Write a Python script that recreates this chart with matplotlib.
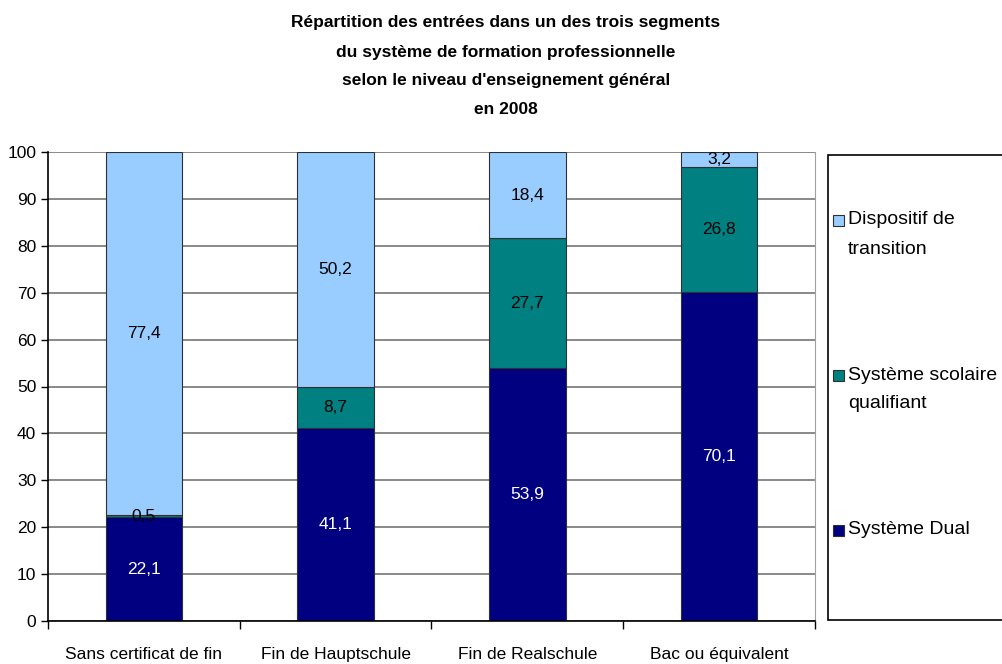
import matplotlib.pyplot as plt
from matplotlib.patches import Rectangle

plt.rcParams['font.family'] = ['Liberation Sans', 'DejaVu Sans']

categories = ["Sans certificat de fin", "Fin de Hauptschule", "Fin de Realschule", "Bac ou équivalent"]
dual = [22.1, 41.1, 53.9, 70.1]
scolaire = [0.5, 8.7, 27.7, 26.8]
transition = [77.4, 50.2, 18.4, 3.2]
series_names = ["Système Dual", "Système scolaire\nqualifiant", "Dispositif de\ntransition"]
colors = ["#000080", "#008080", "#99CCFF"]
title_lines = ["Répartition des entrées dans un des trois segments",
               "du système de formation professionnelle",
               "selon le niveau d'enseignement général",
               "en 2008"]

W, H = 1003, 664
fig = plt.figure(figsize=(W/100, H/100), dpi=100)
ax = fig.add_axes([48/W, 1-621/H, (815-48)/W, (621-152)/H])

x = list(range(len(categories)))
bottoms = [0]*len(x)
bars = []
for vals, col in zip([dual, scolaire, transition], colors):
    b = ax.bar(x, vals, width=0.4, bottom=bottoms, color=col,
               edgecolor="#303030", linewidth=0.8, zorder=2)
    bars.append(b)
    bottoms = [bt + v for bt, v in zip(bottoms, vals)]

for b, vals, tc in zip(bars, [dual, scolaire, transition], ["white", "black", "black"]):
    ax.bar_label(b, labels=[f"{v:.1f}".replace(".", ",") for v in vals],
                 label_type="center", color=tc, fontsize=12.5)

ax.set_xlim(-0.5, 3.5)
ax.set_ylim(0, 100)
ax.set_yticks(range(0, 101, 10))
ax.tick_params(axis="y", labelsize=12.5, length=5, direction="out", width=1)
ax.yaxis.grid(True, color="#808080", linewidth=1.3, zorder=0)
ax.set_axisbelow(True)

ax.set_xticks([-0.5, 0.5, 1.5, 2.5, 3.5])
ax.set_xticklabels([])
ax.tick_params(axis="x", which="major", length=6, direction="out", width=1)
ax.set_xticks(x, minor=True)
ax.set_xticklabels(categories, minor=True, fontsize=12.5)
ax.tick_params(axis="x", which="minor", length=0, pad=19)

ax.spines["top"].set_visible(False)
ax.spines["right"].set_color("#a0a0a0")
ax.spines["left"].set_linewidth(1.2)
ax.spines["bottom"].set_linewidth(1.2)

# title, one line at a time
for i, line in enumerate(title_lines):
    fig.text(506/W, 1-(23 + 29*i)/H, line, ha="center", va="center",
             fontsize=12.5, fontweight="bold")

# legend box
fig.patches.append(Rectangle((828/W, 1-620/H), 200/W, 465/H,
                             transform=fig.transFigure, facecolor="white",
                             edgecolor="black", linewidth=1.2))
legend_y = [530, 375, 220]
for name, col, y0 in zip(series_names, colors, legend_y):
    fig.patches.append(Rectangle((833/W, 1-(y0+5.5)/H), 11/W, 11/H,
                                 transform=fig.transFigure, facecolor=col,
                                 edgecolor="#303030", linewidth=0.8))
    for j, part in enumerate(name.split("\n")):
        fig.text(848/W, 1-(y0 + 29*j)/H, part, ha="left", va="center",
                 fontsize=14)

fig.savefig("out.png", dpi=100)
